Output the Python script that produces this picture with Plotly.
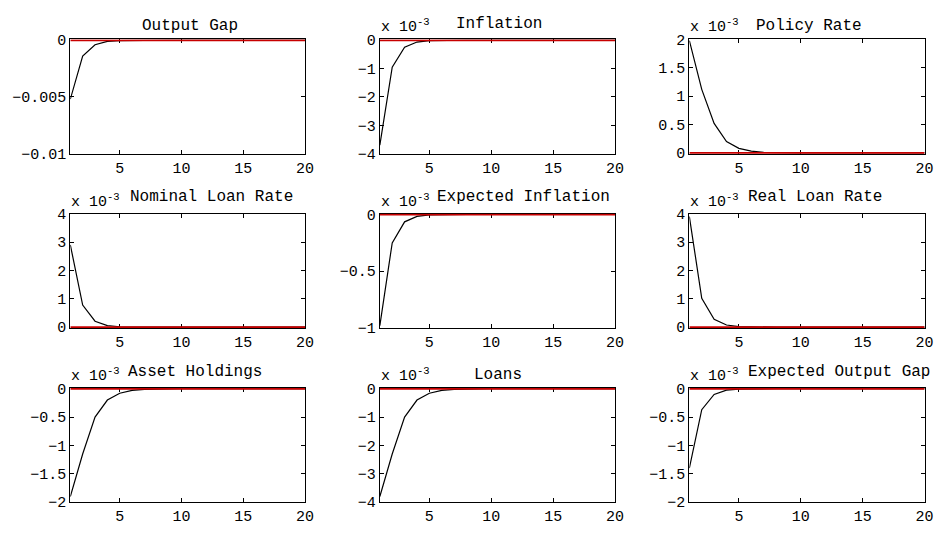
import plotly.graph_objects as go

periods = list(range(1, 21))

titles = ["Output Gap", "Inflation", "Policy Rate",
          "Nominal Loan Rate", "Expected Inflation", "Real Loan Rate",
          "Asset Holdings", "Loans", "Expected Output Gap"]

# values in displayed axis units (multiplier given in axis_scale)
output_gap = [-0.0052, -0.0014, -0.0004, -0.0001, -0.00003, -0.00001, 0, 0, 0, 0,
              0, 0, 0, 0, 0, 0, 0, 0, 0, 0]
inflation = [-3.7, -0.95, -0.25, -0.065, -0.017, -0.004, -0.001, 0, 0, 0,
             0, 0, 0, 0, 0, 0, 0, 0, 0, 0]
policy_rate = [1.98, 1.12, 0.52, 0.2, 0.08, 0.03, 0.01, 0.004, 0.001, 0,
               0, 0, 0, 0, 0, 0, 0, 0, 0, 0]
nominal_loan_rate = [2.9, 0.78, 0.21, 0.055, 0.014, 0.004, 0.001, 0, 0, 0,
                     0, 0, 0, 0, 0, 0, 0, 0, 0, 0]
expected_inflation = [-0.98, -0.25, -0.065, -0.017, -0.004, -0.001, 0, 0, 0, 0,
                      0, 0, 0, 0, 0, 0, 0, 0, 0, 0]
real_loan_rate = [3.9, 1.02, 0.28, 0.075, 0.02, 0.005, 0.001, 0, 0, 0,
                  0, 0, 0, 0, 0, 0, 0, 0, 0, 0]
asset_holdings = [-1.9, -1.15, -0.5, -0.2, -0.08, -0.03, -0.01, -0.004, -0.001, 0,
                  0, 0, 0, 0, 0, 0, 0, 0, 0, 0]
loans = [-3.8, -2.3, -1.0, -0.4, -0.16, -0.06, -0.022, -0.008, -0.003, -0.001,
         0, 0, 0, 0, 0, 0, 0, 0, 0, 0]
expected_output_gap = [-1.4, -0.37, -0.1, -0.026, -0.007, -0.002, 0, 0, 0, 0,
                       0, 0, 0, 0, 0, 0, 0, 0, 0, 0]

series = [output_gap, inflation, policy_rate, nominal_loan_rate, expected_inflation,
          real_loan_rate, asset_holdings, loans, expected_output_gap]
baseline = [0] * len(periods)

axis_scale = [None, "-3", "-3", "-3", "-3", "-3", "-3", "-3", "-3"]

M = "\u2212"
y_ranges = [[-0.01, 0], [-4, 0], [0, 2], [0, 4], [-1, 0], [0, 4], [-2, 0], [-4, 0], [-2, 0]]
y_ticks = [[-0.01, -0.005, 0], [-4, -3, -2, -1, 0], [0, 0.5, 1, 1.5, 2], [0, 1, 2, 3, 4],
           [-1, -0.5, 0], [0, 1, 2, 3, 4], [-2, -1.5, -1, -0.5, 0], [-4, -3, -2, -1, 0],
           [-2, -1.5, -1, -0.5, 0]]
y_ticktext = [[M + "0.01", M + "0.005", "0"], [M + "4", M + "3", M + "2", M + "1", "0"],
              ["0", "0.5", "1", "1.5", "2"], ["0", "1", "2", "3", "4"],
              [M + "1", M + "0.5", "0"], ["0", "1", "2", "3", "4"],
              [M + "2", M + "1.5", M + "1", M + "0.5", "0"],
              [M + "4", M + "3", M + "2", M + "1", "0"],
              [M + "2", M + "1.5", M + "1", M + "0.5", "0"]]
x_ticks = [5, 10, 15, 20]

W, H = 944, 533
col_px = [(71, 308), (383.5, 621), (696, 933.5)]
row_px = [(33.5, 151.5), (213.5, 331.5), (393.5, 511.5)]
# title placement (left edge px, centre height above axes top px)
title_left = [141.5, 458, 761, 129, 439, 753, 127, 477, 753]
title_rise = [13.5, 16, 13.5, 17, 17.5, 17, 16, 13.5, 16]
EDGE_PAD_PX = 0.8  # keep the zero line visible on top of the frame edge

FONT = "Liberation Mono, Courier New, monospace"
fig = go.Figure()
annotations = []
layout_axes = {}

for i in range(9):
    r, c = divmod(i, 3)
    n = i + 1
    xa = "x" if n == 1 else f"x{n}"
    ya = "y" if n == 1 else f"y{n}"
    xk = "xaxis" if n == 1 else f"xaxis{n}"
    yk = "yaxis" if n == 1 else f"yaxis{n}"
    x0, x1 = col_px[c]
    y0, y1 = row_px[r]
    lo, hi = y_ranges[i]
    pad = (hi - lo) / (y1 - y0) * EDGE_PAD_PX
    rng = [lo - pad if lo == 0 else lo, hi + pad if hi == 0 else hi]
    fig.add_trace(go.Scatter(x=periods, y=series[i], mode="lines",
                             line=dict(color="black", width=1.2),
                             xaxis=xa, yaxis=ya, showlegend=False, hoverinfo="skip"))
    fig.add_trace(go.Scatter(x=periods, y=baseline, mode="lines",
                             line=dict(color="#c80000", width=2),
                             xaxis=xa, yaxis=ya, showlegend=False, hoverinfo="skip"))
    common = dict(showgrid=False, zeroline=False, showline=True, linecolor="black",
                  linewidth=1, mirror="allticks", ticks="inside", ticklen=4,
                  tickcolor="black", tickwidth=1, layer="below traces",
                  tickfont=dict(family=FONT, size=15, color="black"))
    layout_axes[xk] = dict(domain=[x0 / W, x1 / W], range=[1, 20], tickvals=x_ticks,
                           ticktext=[str(v) for v in x_ticks], anchor=ya, **common)
    layout_axes[yk] = dict(domain=[1 - y1 / H, 1 - y0 / H], range=rng,
                           tickvals=y_ticks[i], ticktext=y_ticktext[i], anchor=xa, **common)
    annotations.append(dict(text=titles[i], x=title_left[i] / W,
                            y=1 - (y0 - title_rise[i]) / H,
                            xref="paper", yref="paper", xanchor="left", yanchor="middle",
                            showarrow=False, font=dict(family=FONT, size=16, color="black")))
    if axis_scale[i]:
        annotations.append(dict(text=f"x 10<sup>{axis_scale[i]}</sup>",
                                x=(x0 - 1) / W, y=1 - (y0 - 1) / H,
                                xref="paper", yref="paper", xanchor="left", yanchor="bottom",
                                showarrow=False,
                                font=dict(family=FONT, size=15, color="black")))

fig.update_layout(width=W, height=H, margin=dict(l=0, r=0, t=0, b=0),
                  paper_bgcolor="white", plot_bgcolor="white",
                  annotations=annotations, **layout_axes)

fig.write_html("out.html", config={"displayModeBar": False},
               post_script="document.body.style.margin='0';")
